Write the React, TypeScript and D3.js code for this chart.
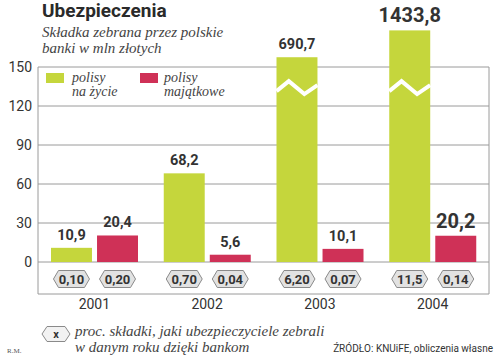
import * as d3 from "d3";
import React from "react";

const years = ["2001", "2002", "2003", "2004"];
const lifeValues = [10.9, 68.2, 690.7, 1433.8];
const propertyValues = [20.4, 5.6, 10.1, 20.2];
const lifeShare = ["0,10", "0,70", "6,20", "11,5"];
const propertyShare = ["0,20", "0,04", "0,07", "0,14"];
const yTicks = [0, 30, 60, 90, 120, 150];

const GREEN = "#c5d63c";
const RED = "#cf3157";
const GRID = "#9a9a9a";
const TEXT = "#333";
const SANS = "Roboto, 'Liberation Sans', sans-serif";
const SERIF = "'Liberation Serif', 'DejaVu Serif', serif";

const fmt = (v: number) => String(v).replace(".", ",");

// values over 150 are drawn on a broken axis, squeezed into a short strip
const breakScale = d3.scaleLinear().domain([0, 150, 600, 1500]).range([0, 150, 155, 180]);

const hexPath = (cx: number, cy: number, w: number, h: number) => {
    const n = 5;
    return `M${cx - w / 2},${cy} L${cx - w / 2 + n},${cy - h / 2} L${cx + w / 2 - n},${cy - h / 2} ` +
        `L${cx + w / 2},${cy} L${cx + w / 2 - n},${cy + h / 2} L${cx - w / 2 + n},${cy + h / 2} Z`;
};

const App = () => {
    const left = 38, right = 489, frameBottom = 294;
    const y = d3.scaleLinear().domain([0, 150]).range([262, 67]);
    const x0 = d3.scaleBand().domain(years).range([left, right]);
    const x1 = d3.scaleBand().domain(["life", "property"]).range([13, 100]).paddingInner(0.11);
    const bw = x1.bandwidth();

    const bars = years.flatMap((yr, i) => [
        {yr, key: "life", value: lifeValues[i], share: lifeShare[i], color: GREEN},
        {yr, key: "property", value: propertyValues[i], share: propertyShare[i], color: RED},
    ]);

    return (
        <svg width={500} height={362} style={{position: "absolute", left: 0, top: 0, background: "#fff"}}>
            <text x={42} y={17} fontFamily={SANS} fontWeight="bold" fontSize={19} fill="#2a2a2a">Ubezpieczenia</text>
            <text fontFamily={SERIF} fontStyle="italic" fontSize={15} fill="#444">
                <tspan x={42} y={37}>Składka zebrana przez polskie</tspan>
                <tspan x={42} y={53}>banki w mln złotych</tspan>
            </text>

            {yTicks.map(t => (
                <g key={t}>
                    <line x1={left} x2={right} y1={y(t)} y2={y(t)} stroke={GRID} strokeWidth={1}/>
                    <text x={32} y={y(t) + 5} textAnchor="end" fontFamily={SANS} fontSize={14} fill={TEXT}>{t}</text>
                </g>
            ))}
            <line x1={left} x2={left} y1={y(150)} y2={frameBottom} stroke={GRID}/>
            <line x1={right} x2={right} y1={y(150)} y2={frameBottom} stroke={GRID}/>
            <line x1={left} x2={right} y1={frameBottom} y2={frameBottom} stroke={GRID}/>

            <rect x={46} y={73} width={18} height={10} fill={GREEN}/>
            <text fontFamily={SERIF} fontStyle="italic" fontSize={14} fill="#444">
                <tspan x={72} y={82}>polisy</tspan>
                <tspan x={72} y={96}>na życie</tspan>
            </text>
            <rect x={140} y={73} width={18} height={10} fill={RED}/>
            <text fontFamily={SERIF} fontStyle="italic" fontSize={14} fill="#444">
                <tspan x={164} y={82}>polisy</tspan>
                <tspan x={164} y={96}>majątkowe</tspan>
            </text>

            {bars.map(b => {
                const bx = (x0(b.yr) as number) + (x1(b.key) as number);
                const top = y(breakScale(b.value));
                const big = b.yr === "2004";
                const broken = b.value > 150;
                const by = y(133);
                return (
                    <g key={b.yr + b.key}>
                        <rect x={bx} y={top} width={bw} height={y(0) - top} fill={b.color}/>
                        {broken && (
                            <polyline
                                points={`${bx},${by + 2} ${bx + bw * 0.3},${by - 8} ${bx + bw * 0.68},${by + 5} ${bx + bw},${by - 4}`}
                                fill="none" stroke="#fff" strokeWidth={4}/>
                        )}
                        <text x={bx + bw / 2} y={top - 8} textAnchor="middle" fontFamily={SANS} fontWeight="bold"
                              fontSize={big ? 20 : 14.5} fill={TEXT}>{fmt(b.value)}</text>
                        <path d={hexPath(bx + bw / 2, 279, 36, 17)} fill="#e2e2e2" stroke="#8a8a8a" strokeWidth={1}/>
                        <text x={bx + bw / 2} y={283.5} textAnchor="middle" fontFamily={SANS} fontWeight="bold"
                              fontSize={13} fill={TEXT}>{b.share}</text>
                    </g>
                );
            })}

            {years.map(yr => (
                <text key={yr} x={(x0(yr) as number) + x0.bandwidth() / 2} y={309} textAnchor="middle"
                      fontFamily={SANS} fontSize={14} fill={TEXT}>{yr}</text>
            ))}

            <path d={hexPath(56, 334, 28, 15)} fill="#f2f2f2" stroke="#8a8a8a" strokeWidth={1}/>
            <text x={56} y={338} textAnchor="middle" fontFamily={SANS} fontWeight="bold" fontSize={11} fill={TEXT}>x</text>
            <text fontFamily={SERIF} fontStyle="italic" fontSize={15} fill="#444">
                <tspan x={75} y={336}>proc. składki, jaki ubezpieczyciele zebrali</tspan>
                <tspan x={75} y={352}>w danym roku dzięki bankom</tspan>
            </text>
            <text x={7} y={353} fontFamily={SERIF} fontSize={7} fill="#555">R.M.</text>
            <text x={493} y={352} textAnchor="end" fontFamily={SANS} fontSize={10} fill={TEXT}>ŹRÓDŁO: KNUiFE, obliczenia własne</text>
        </svg>
    );
};

export default App;
